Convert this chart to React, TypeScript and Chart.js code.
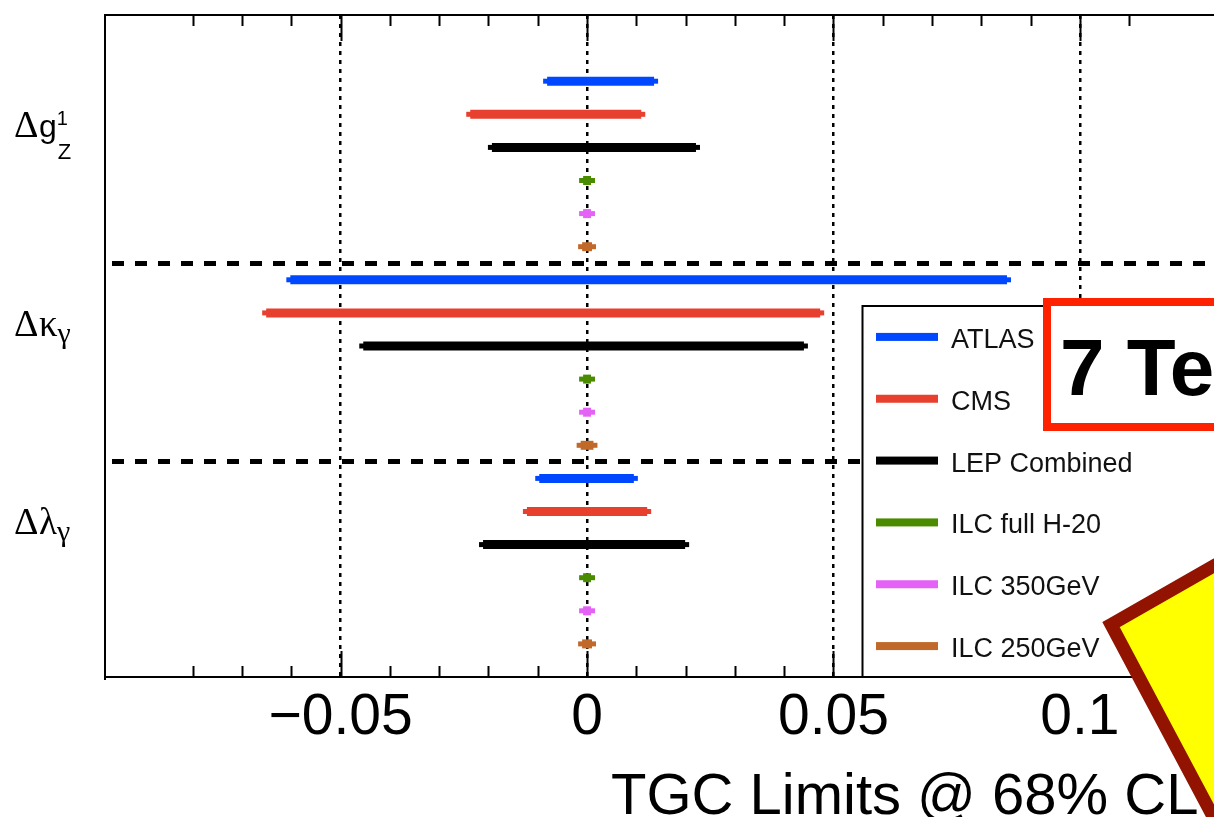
import React, { useEffect, useRef } from 'react';
import { Chart, registerables } from 'chart.js';

Chart.register(...registerables);

// ---------- data ----------
const seriesNames = ['ATLAS', 'CMS', 'LEP Combined', 'ILC full H-20', 'ILC 350GeV', 'ILC 250GeV'];
const seriesColors = ['#0048ff', '#e8402f', '#000000', '#4b8b00', '#e462f5', '#c0692a'];

// category rows where each coupling group starts (one row per series)
const groupStartRows = [2, 8, 14];

// [lower, upper] limits for Δg1Z, Δκγ, Δλγ
const atlasLimits = [[-0.0081, 0.0136], [-0.0602, 0.0852], [-0.0097, 0.0095]];
const cmsLimits = [[-0.0237, 0.011], [-0.0651, 0.0473], [-0.0122, 0.0122]];
const lepLimits = [[-0.0193, 0.0221], [-0.0454, 0.044], [-0.0211, 0.0199]];
const ilcH20Limits = [[-0.0008, 0.0008], [-0.0008, 0.0008], [-0.0008, 0.0008]];
const ilc350Limits = [[-0.0008, 0.0008], [-0.0008, 0.0008], [-0.0008, 0.0008]];
const ilc250Limits = [[-0.001, 0.001], [-0.0013, 0.0013], [-0.001, 0.001]];

const xMin = -0.0978;
const xMax = 0.1272;
const yMin = 0;
const yMax = 20;
const majorStep = 0.05;
const minorStep = 0.01;

const xTitle = 'TGC Limits @ 68% CL';
const energyLabel = '7 TeV';

const groupLabels = [
  { sym: 'g', symSerif: false, sup: '1', sub: 'Z', subSerif: false },
  { sym: 'κ', symSerif: true, sup: '', sub: 'γ', subSerif: true },
  { sym: 'λ', symSerif: true, sup: '', sub: 'γ', subSerif: true },
];

// ---------- helpers ----------
const SANS = '"Liberation Sans", Arial, Helvetica, sans-serif';
const SERIF = '"Liberation Serif", "Times New Roman", serif';

const isMultiple = (v: number, step: number) => Math.abs(v / step - Math.round(v / step)) < 1e-6;
const fmt = (v: number) => {
  if (Math.abs(v) < 1e-9) return '0';
  const s = String(Number(Math.abs(v).toFixed(3)));
  return v < 0 ? '\u2212' + s : s;
};

const allLimits = [atlasLimits, cmsLimits, lepLimits, ilcH20Limits, ilc350Limits, ilc250Limits];
const separators = groupStartRows.slice(1).map((r) => r - 0.5);

const overlayPlugin = {
  id: 'overlay',
  afterDraw(chart: any) {
    const { ctx, chartArea: ca, scales } = chart;
    const xs = scales.x;
    const ys = scales.y;
    ctx.save();

    // top frame line
    ctx.strokeStyle = '#000';
    ctx.lineWidth = 2;
    ctx.beginPath();
    ctx.moveTo(ca.left, ca.top);
    ctx.lineTo(ca.right + 2, ca.top);
    ctx.stroke();

    // inward ticks top and bottom
    xs.ticks.forEach((t: any) => {
      if (!isMultiple(t.value, minorStep)) return;
      const px = Math.round(xs.getPixelForValue(t.value)) + 0.5;
      const len = isMultiple(t.value, majorStep) ? 26 : 11;
      ctx.beginPath();
      ctx.moveTo(px, ca.top);
      ctx.lineTo(px, ca.top + len);
      ctx.moveTo(px, ca.bottom);
      ctx.lineTo(px, ca.bottom - len);
      ctx.stroke();
    });

    // group labels
    ctx.fillStyle = '#000';
    ctx.textBaseline = 'alphabetic';
    ctx.textAlign = 'left';
    groupLabels.forEach((lbl, g) => {
      const base = ys.getPixelForValue(groupStartRows[g]) + 56;
      let x = 14;
      ctx.font = `38px ${SERIF}`;
      ctx.fillText('Δ', x, base);
      x += ctx.measureText('Δ').width + 0.5;
      ctx.font = lbl.symSerif ? `37px ${SERIF}` : `32px ${SANS}`;
      ctx.fillText(lbl.sym, x, base);
      x += ctx.measureText(lbl.sym).width;
      if (lbl.sup) {
        ctx.font = `20px ${SANS}`;
        ctx.fillText(lbl.sup, x, base - 12);
      }
      if (lbl.sub) {
        if (lbl.subSerif) {
          ctx.font = `30px ${SERIF}`;
          ctx.fillText(lbl.sub, x, base + 7);
        } else {
          ctx.font = `22px ${SANS}`;
          ctx.fillText(lbl.sub, x + 1, base + 22);
        }
      }
    });

    // x axis title
    ctx.font = `58px ${SANS}`;
    ctx.fillText(xTitle, 611, 814);

    // legend box
    const lgTop = 306;
    const lgLeft = 862.5;
    const lgBottom = ca.bottom;
    ctx.fillStyle = '#fff';
    ctx.fillRect(lgLeft, lgTop, 600, lgBottom - lgTop);
    ctx.strokeStyle = '#000';
    ctx.lineWidth = 2;
    ctx.strokeRect(lgLeft, lgTop, 600, lgBottom - lgTop);
    const rowH = (lgBottom - lgTop) / seriesNames.length;
    seriesNames.forEach((name, i) => {
      const cy = lgTop + (i + 0.5) * rowH;
      ctx.fillStyle = seriesColors[i];
      ctx.fillRect(876, cy - 4, 62, 8);
      ctx.fillStyle = '#111';
      ctx.font = `27px ${SANS}`;
      ctx.fillText(name, 951, cy + 11);
    });

    // energy box
    ctx.fillStyle = '#fff';
    ctx.fillRect(1047, 302, 400, 125);
    ctx.strokeStyle = '#ff2200';
    ctx.lineWidth = 8;
    ctx.strokeRect(1047, 302, 400, 125);
    ctx.fillStyle = '#000';
    ctx.font = `bold 80px ${SANS}`;
    ctx.fillText(energyLabel, 1060, 395);

    // yellow sticker
    const p0x = 1111;
    const p0y = 624.6;
    const a = (-29.7 * Math.PI) / 180;
    const b = (62 * Math.PI) / 180;
    const L = 500;
    const p1 = [p0x + L * Math.cos(a), p0y + L * Math.sin(a)];
    const p2 = [p0x + L * Math.cos(b), p0y + L * Math.sin(b)];
    const p3 = [p1[0] + p2[0] - p0x, p1[1] + p2[1] - p0y];
    ctx.beginPath();
    ctx.moveTo(p0x, p0y);
    ctx.lineTo(p1[0], p1[1]);
    ctx.lineTo(p3[0], p3[1]);
    ctx.lineTo(p2[0], p2[1]);
    ctx.closePath();
    ctx.fillStyle = '#ffff00';
    ctx.fill();
    ctx.lineJoin = 'miter';
    ctx.lineWidth = 13;
    ctx.strokeStyle = '#921300';
    ctx.stroke();

    ctx.restore();
  },
};

export default function App() {
  const ref = useRef<HTMLCanvasElement>(null);

  useEffect(() => {
    const datasets: any[] = [];
    allLimits.forEach((lims, s) => {
      lims.forEach(([lo, hi], g) => {
        const row = groupStartRows[g] + s;
        datasets.push({
          label: seriesNames[s],
          data: [
            { x: lo, y: row },
            { x: hi, y: row },
          ],
          showLine: true,
          borderColor: seriesColors[s],
          backgroundColor: seriesColors[s],
          borderWidth: 9,
          borderCapStyle: 'butt',
          pointStyle: 'line',
          pointRadius: 4,
          pointHoverRadius: 4,
          pointBorderWidth: 5,
          pointBorderColor: seriesColors[s],
          tension: 0,
          fill: false,
        });
      });
    });

    const chart = new Chart(ref.current as HTMLCanvasElement, {
      type: 'scatter',
      data: { datasets },
      plugins: [overlayPlugin],
      options: {
        animation: false,
        responsive: false,
        devicePixelRatio: 1,
        events: [],
        layout: { autoPadding: false, padding: { top: 15, left: 0, right: 0, bottom: 0 } },
        plugins: {
          legend: { display: false },
          tooltip: { enabled: false },
          title: { display: false },
        },
        scales: {
          x: {
            type: 'linear',
            position: 'bottom',
            min: xMin,
            max: xMax,
            z: 1,
            afterFit: (s: any) => {
              s.height = 140;
            },
            ticks: {
              stepSize: minorStep,
              autoSkip: false,
              maxRotation: 0,
              minRotation: 0,
              padding: 0,
              color: '#000',
              font: { family: SANS, size: 57, lineHeight: 1.445 },
              callback: (v: any) => (isMultiple(Number(v), majorStep) ? fmt(Number(v)) : ''),
            },
            grid: {
              color: (c: any) =>
                c.tick && isMultiple(c.tick.value, majorStep) ? '#000' : 'rgba(0,0,0,0)',
              lineWidth: 2.5,
              drawTicks: false,
            },
            border: { display: true, color: '#000', width: 2, dash: [4, 5] },
          },
          y: {
            type: 'linear',
            position: 'left',
            min: yMin,
            max: yMax,
            reverse: true,
            afterFit: (s: any) => {
              s.width = 105;
            },
            afterBuildTicks: (s: any) => {
              s.ticks = separators.map((v) => ({ value: v }));
            },
            ticks: { display: false, padding: 0 },
            grid: { color: '#000', lineWidth: 5, drawTicks: false },
            border: { display: true, color: '#000', width: 2, dash: [12, 11], dashOffset: 17 },
          },
        },
      } as any,
    });
    return () => chart.destroy();
  }, []);

  return (
    <div
      style={{
        position: 'fixed',
        left: 0,
        top: 0,
        width: 1214,
        height: 817,
        overflow: 'hidden',
        background: '#fff',
      }}
    >
      <canvas ref={ref} width={1214} height={817} style={{ display: 'block', width: 1214, height: 817 }} />
    </div>
  );
}
